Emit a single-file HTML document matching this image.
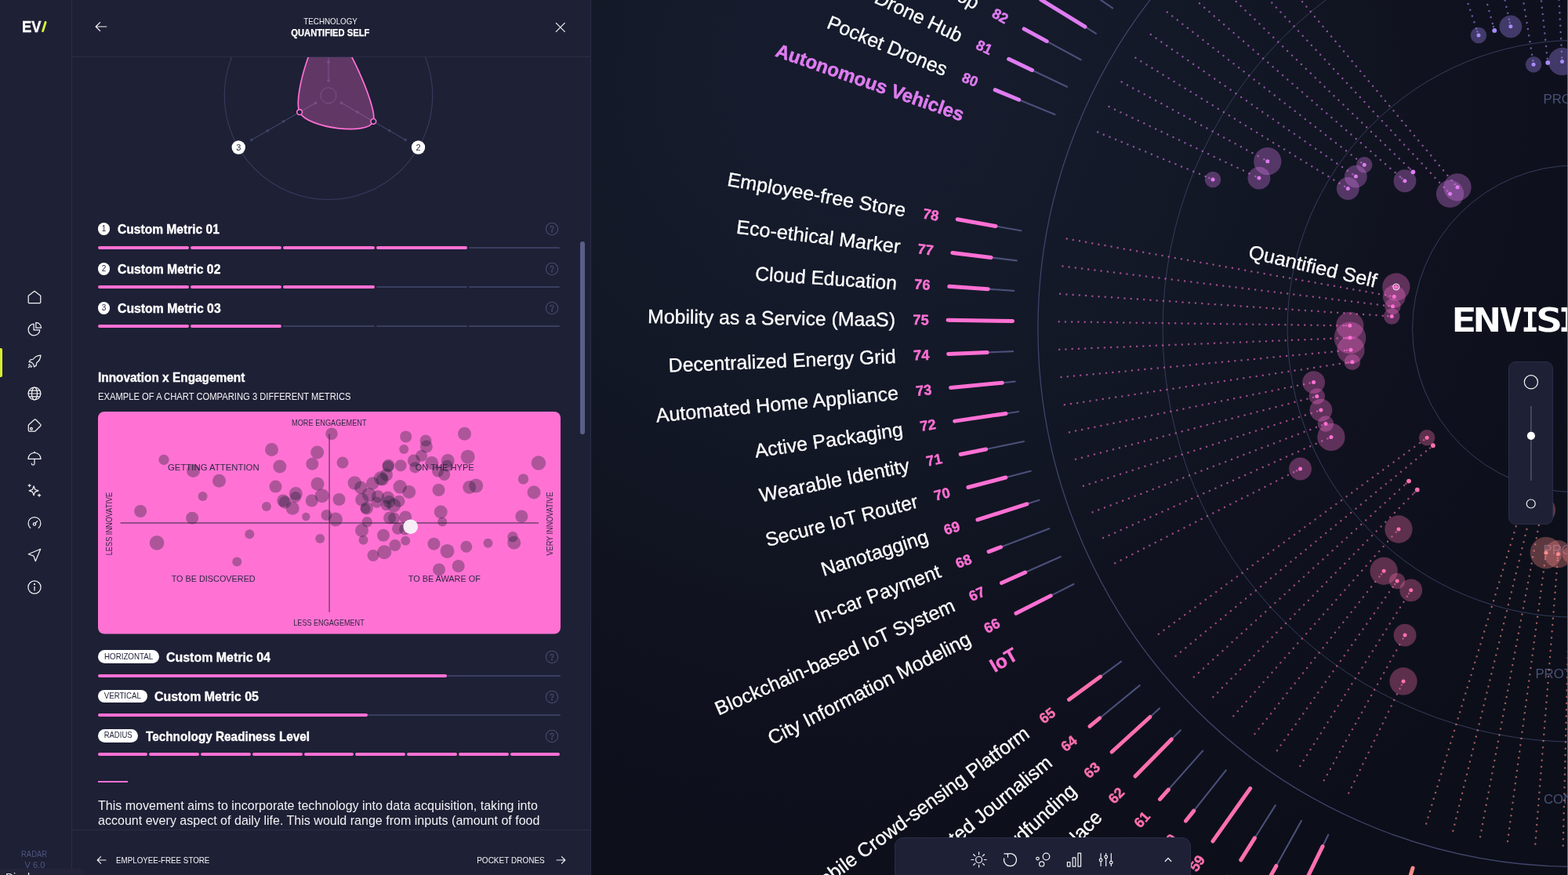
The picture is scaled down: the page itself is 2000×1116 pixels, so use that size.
<!DOCTYPE html>
<html lang="en">
<head>
<meta charset="utf-8">
<title>Envisioning Radar – Quantified Self</title>
<style>
*{box-sizing:border-box;margin:0;padding:0}
html,body{background:#1e2035}
body{width:2000px;height:1116px;font-family:"Liberation Sans","Noto Sans CJK SC",sans-serif;-webkit-font-smoothing:antialiased}
#app{position:relative;width:2000px;height:1116px;overflow:hidden}
#sidebar{position:absolute;left:0;top:0;width:92px;height:1116px;background:#1e2035;border-right:1px solid #2a2d49}
#sidebar>*,#panel span,#panel .num{position:absolute}
.active-mark{left:0;top:443.500px;width:2.800px;height:37px;background:#d5ee2e;border-radius:0 2px 2px 0}
.nav-ico{position:absolute}
#panel{position:absolute;left:0;top:0;width:754px;height:1116px;pointer-events:none}
#panel-body{position:absolute;left:0;top:0;width:754px;height:1116px;background:#1e2035;border-right:1px solid #2a2d49}
#panel-head{position:absolute;left:0;top:0;width:753px;height:73px;background:#1e2035;border-bottom:1px solid #2a2d49}
#panel-foot{position:absolute;left:0;top:0;width:753px;height:1116px}
#panel-foot:before{content:"";position:absolute;left:0;top:1058px;width:753px;height:58px;background:#1e2035;border-top:1px solid #2a2d49}
.num{width:15.800px;height:15.800px;border-radius:50%;background:#fff;color:#1e2035;font-size:10px;line-height:15.800px;text-align:center}
.bar{position:absolute;left:0;width:754px;height:4px}
.bar i{position:absolute;display:block;top:0;height:4px;border-radius:2px}
.bar i.on{background:#ff70d4}
.bar i.off{top:1px;height:2px;background:#3a3e60;border-radius:1px}
.badge{position:absolute;background:#fff;border-radius:9px}
.rule{position:absolute;left:124.500px;top:995.800px;width:38px;height:2px;background:#ff70d4}
.scroll{position:absolute;left:739.500px;top:307.500px;width:6.600px;height:246px;border-radius:3.300px;background:#596087}
#radar{position:absolute;left:754px;top:0;width:1246px;height:1116px;overflow:hidden;background:radial-gradient(circle 1100px at 346px 100px,#161c2e 0%,#151b2b 20%,#131827 39%,#111522 55%,#10131f 64%,#0e111d 80%,#0d101b 92%,#0c0f19 100%)}
#radar>svg{position:absolute;left:0;top:0}
#zoom{position:absolute;left:1924px;top:461px;width:57px;height:208px;border-radius:9px;background:#1e2035;border:1px solid #2a2d49}
#zoom svg{position:absolute;left:-1px;top:-1px}
#toolbar{position:absolute;left:1140.500px;top:1067.500px;width:378px;height:60px;border-radius:11px;background:#1e2035;border:1px solid #2a2d49}
#toolbar svg{position:absolute;left:-1px;top:-1px}
#edge{position:absolute;left:1999px;top:0;width:1px;height:1116px;background:#70737c}
#status{position:absolute;left:0;top:1108px;width:108px;height:20px;background:#23233a;border-radius:0 5px 0 0;color:#f4f4f4;font-size:14px;line-height:22px;padding-left:7px;overflow:hidden}
</style>
</head>
<body>
<div id="app">
<main id="radar">
<svg width="1246" height="1116" viewBox="754 0 1246 1116">
<g id="rings" fill="none" stroke="#3d4268" stroke-width="1">
<circle cx="2010" cy="419.3" r="208.4" stroke="#363b5c" stroke-width="1"/>
<circle cx="2010" cy="419.3" r="367.9" stroke="#363b5c" stroke-width="1"/>
<circle cx="2010" cy="419.3" r="526.9" stroke="#363b5c" stroke-width="1"/>
<circle cx="2010" cy="419.3" r="686.1" stroke="#40456b" stroke-width="1.25"/>
</g>
<g id="ring-labels" font-family="'Liberation Sans', sans-serif" font-size="16.8" fill="#4a5177" text-anchor="middle">
<text x="2010" y="131.5">PRODUCT</text>
<text x="2010" y="707">PRODUCT</text>
<text x="2010" y="865">PROTOTYPE</text>
<text x="2010" y="1025">CONCEPT</text>
</g>
<g id="trails" fill="none" stroke-linecap="round" stroke-width="2.5" stroke-dasharray="0 8.25">
<path d="M1586.97 -86.45L1855.18 234.21" stroke="#df7cf1" opacity="0.6"/>
<path d="M1560.39 -62.98L1845.46 242.8" stroke="#df7cf1" opacity="0.6"/>
<path d="M1535.12 -38.11L1798.04 215.13" stroke="#df7cf1" opacity="0.6"/>
<path d="M1511.21 -11.92L1787.37 226.82" stroke="#df7cf1" opacity="0.6"/>
<path d="M1488.75 15.51L1735.44 206.61" stroke="#df7cf1" opacity="0.6"/>
<path d="M1467.8 44.12L1724.41 221.68" stroke="#df7cf1" opacity="0.6"/>
<path d="M1448.41 73.81L1714.2 237.32" stroke="#df7cf1" opacity="0.6"/>
<path d="M1430.65 104.5L1611.53 202.78" stroke="#df7cf1" opacity="0.6"/>
<path d="M1414.57 136.1L1600.46 224.51" stroke="#df7cf1" opacity="0.6"/>
<path d="M1400.2 168.52L1541.47 226.62" stroke="#df7cf1" opacity="0.6"/>
<path d="M1360.72 304.48L1772.39 377.28" stroke="#ff70d4" opacity="0.6"/>
<path d="M1355.49 339.55L1770.47 390.11" stroke="#ff70d4" opacity="0.6"/>
<path d="M1352.15 374.85L1769.25 403.03" stroke="#ff70d4" opacity="0.6"/>
<path d="M1350.71 410.28L1715.73 415.27" stroke="#ff70d4" opacity="0.6"/>
<path d="M1351.18 445.73L1715.94 431.1" stroke="#ff70d4" opacity="0.6"/>
<path d="M1353.55 481.11L1717 446.89" stroke="#ff70d4" opacity="0.6"/>
<path d="M1357.83 516.31L1718.9 462.6" stroke="#ff70d4" opacity="0.6"/>
<path d="M1363.98 551.23L1669.72 488.79" stroke="#ff70d4" opacity="0.6"/>
<path d="M1372.01 585.77L1673.95 506.98" stroke="#ff70d4" opacity="0.6"/>
<path d="M1381.88 619.83L1679.15 524.92" stroke="#ff70d4" opacity="0.6"/>
<path d="M1393.57 653.3L1685.31 542.56" stroke="#ff70d4" opacity="0.6"/>
<path d="M1407.04 686.1L1692.4 559.83" stroke="#ff70d4" opacity="0.6"/>
<path d="M1422.26 718.13L1653.17 600.72" stroke="#ff70d4" opacity="0.6"/>
<path d="M1477.9 808.67L1815.27 561.8" stroke="#ff70b0" opacity="0.6"/>
<path d="M1499.6 836.71L1823.21 572.06" stroke="#ff70b0" opacity="0.6"/>
<path d="M1522.78 863.55L1792.53 617.59" stroke="#ff70b0" opacity="0.6"/>
<path d="M1547.36 889.1L1803.5 628.99" stroke="#ff70b0" opacity="0.6"/>
<path d="M1573.29 913.29L1779.97 679.5" stroke="#ff70b0" opacity="0.6"/>
<path d="M1600.48 936.05L1761.37 733.03" stroke="#ff70b0" opacity="0.6"/>
<path d="M1628.85 957.32L1778.6 745.94" stroke="#ff70b0" opacity="0.6"/>
<path d="M1658.32 977.03L1796.49 757.91" stroke="#ff70b0" opacity="0.6"/>
<path d="M1688.81 995.13L1789.09 815.36" stroke="#ff70b0" opacity="0.6"/>
<path d="M1720.23 1011.56L1787.36 874.36" stroke="#ff70b0" opacity="0.6"/>
<path d="M1819.14 1050.42L1940.15 650.27" stroke="#ff8c8c" opacity="0.6"/>
<path d="M1853.35 1059.77L1952.67 653.69" stroke="#ff8c8c" opacity="0.6"/>
<path d="M1888.01 1067.27L1965.35 656.43" stroke="#ff8c8c" opacity="0.6"/>
<path d="M1923.02 1072.89L1971.17 711.03" stroke="#ff8c8c" opacity="0.6"/>
<path d="M1958.28 1076.62L1986.91 712.69" stroke="#ff8c8c" opacity="0.6"/>
<path d="M1993.69 1078.45L2002.72 713.51" stroke="#ff8c8c" opacity="0.6"/>
<path d="M1802.54 -206.56L1884.05 39.33" stroke="#a98bff" opacity="0.6"/>
<path d="M1836.49 -216.81L1904.66 33.11" stroke="#a98bff" opacity="0.6"/>
<path d="M1870.93 -225.22L1925.57 28.01" stroke="#a98bff" opacity="0.6"/>
<path d="M1905.78 -231.76L1955.11 76.37" stroke="#a98bff" opacity="0.6"/>
<path d="M1940.93 -236.42L1973.62 73.91" stroke="#a98bff" opacity="0.6"/>
<path d="M1976.28 -239.19L1992.24 72.45" stroke="#a98bff" opacity="0.6"/>
</g>
<g id="bubbles">
<circle cx="1859.03" cy="238.81" r="17.64" fill="#df7cf1" fill-opacity="0.33"/>
<circle cx="1849.55" cy="247.19" r="17.64" fill="#df7cf1" fill-opacity="0.33"/>
<circle cx="1791.91" cy="230.75" r="14.44" fill="#df7cf1" fill-opacity="0.33"/>
<circle cx="1740.19" cy="210.29" r="10.27" fill="#df7cf1" fill-opacity="0.33"/>
<circle cx="1729.34" cy="225.1" r="14.44" fill="#df7cf1" fill-opacity="0.33"/>
<circle cx="1719.31" cy="240.46" r="14.44" fill="#df7cf1" fill-opacity="0.33"/>
<circle cx="1616.8" cy="205.65" r="17.64" fill="#df7cf1" fill-opacity="0.33"/>
<circle cx="1605.88" cy="227.09" r="14.44" fill="#df7cf1" fill-opacity="0.33"/>
<circle cx="1547.02" cy="228.9" r="10.27" fill="#df7cf1" fill-opacity="0.33"/>
<circle cx="1780.83" cy="365.93" r="17.64" fill="#ff70d4" fill-opacity="0.33"/>
<circle cx="1778.3" cy="378.32" r="14.44" fill="#ff70d4" fill-opacity="0.33"/>
<circle cx="1776.43" cy="390.84" r="10.27" fill="#ff70d4" fill-opacity="0.33"/>
<circle cx="1775.24" cy="403.44" r="10.27" fill="#ff70d4" fill-opacity="0.33"/>
<circle cx="1721.73" cy="415.36" r="17.64" fill="#ff70d4" fill-opacity="0.33"/>
<circle cx="1721.93" cy="430.86" r="20.34" fill="#ff70d4" fill-opacity="0.33"/>
<circle cx="1722.97" cy="446.33" r="17.64" fill="#ff70d4" fill-opacity="0.33"/>
<circle cx="1724.84" cy="461.72" r="10.27" fill="#ff70d4" fill-opacity="0.33"/>
<circle cx="1675.6" cy="487.59" r="14.44" fill="#ff70d4" fill-opacity="0.33"/>
<circle cx="1679.76" cy="505.47" r="10.27" fill="#ff70d4" fill-opacity="0.33"/>
<circle cx="1684.87" cy="523.1" r="14.44" fill="#ff70d4" fill-opacity="0.33"/>
<circle cx="1690.92" cy="540.43" r="10.27" fill="#ff70d4" fill-opacity="0.33"/>
<circle cx="1697.89" cy="557.4" r="17.64" fill="#ff70d4" fill-opacity="0.33"/>
<circle cx="1658.52" cy="598" r="14.44" fill="#ff70d4" fill-opacity="0.33"/>
<circle cx="1820.11" cy="558.25" r="10.27" fill="#ff70b0" fill-opacity="0.33"/>
<circle cx="1783.94" cy="675" r="17.64" fill="#ff70b0" fill-opacity="0.33"/>
<circle cx="1765.1" cy="728.32" r="17.64" fill="#ff70b0" fill-opacity="0.33"/>
<circle cx="1782.07" cy="741.04" r="10.27" fill="#ff70b0" fill-opacity="0.33"/>
<circle cx="1799.69" cy="752.83" r="14.44" fill="#ff70b0" fill-opacity="0.33"/>
<circle cx="1792.01" cy="810.12" r="14.44" fill="#ff70b0" fill-opacity="0.33"/>
<circle cx="1790" cy="868.97" r="17.64" fill="#ff70b0" fill-opacity="0.33"/>
<circle cx="1941.89" cy="644.53" r="14.44" fill="#ff8c8c" fill-opacity="0.33"/>
<circle cx="1954.1" cy="647.86" r="14.44" fill="#ff8c8c" fill-opacity="0.33"/>
<circle cx="1966.46" cy="650.54" r="17.64" fill="#ff8c8c" fill-opacity="0.33"/>
<circle cx="1971.97" cy="705.08" r="20.34" fill="#ff8c8c" fill-opacity="0.33"/>
<circle cx="1987.38" cy="706.71" r="17.64" fill="#ff8c8c" fill-opacity="0.33"/>
<circle cx="2002.87" cy="707.51" r="10.27" fill="#ff8c8c" fill-opacity="0.33"/>
<circle cx="1885.94" cy="45.03" r="10.27" fill="#a98bff" fill-opacity="0.33"/>
<circle cx="1926.84" cy="33.87" r="14.44" fill="#a98bff" fill-opacity="0.33"/>
<circle cx="1956.05" cy="82.29" r="10.27" fill="#a98bff" fill-opacity="0.33"/>
<circle cx="1992.55" cy="78.45" r="17.64" fill="#a98bff" fill-opacity="0.33"/>
<circle cx="1855.83" cy="234.98" r="1.3" fill="#df7cf1" opacity="0.55"/>
<circle cx="1859.03" cy="238.81" r="2.5" fill="#df7cf1"/>
<circle cx="1846.14" cy="243.53" r="1.3" fill="#df7cf1" opacity="0.55"/>
<circle cx="1849.55" cy="247.19" r="2.5" fill="#df7cf1"/>
<circle cx="1798.76" cy="215.83" r="1.3" fill="#df7cf1" opacity="0.55"/>
<circle cx="1802.36" cy="219.3" r="2.9" fill="#df7cf1"/>
<circle cx="1788.12" cy="227.48" r="1.3" fill="#df7cf1" opacity="0.55"/>
<circle cx="1791.91" cy="230.75" r="2.5" fill="#df7cf1"/>
<circle cx="1736.23" cy="207.23" r="1.3" fill="#df7cf1" opacity="0.55"/>
<circle cx="1740.19" cy="210.29" r="2.5" fill="#df7cf1"/>
<circle cx="1725.23" cy="222.25" r="1.3" fill="#df7cf1" opacity="0.55"/>
<circle cx="1729.34" cy="225.1" r="2.5" fill="#df7cf1"/>
<circle cx="1715.05" cy="237.84" r="1.3" fill="#df7cf1" opacity="0.55"/>
<circle cx="1719.31" cy="240.46" r="2.5" fill="#df7cf1"/>
<circle cx="1612.4" cy="203.26" r="1.3" fill="#df7cf1" opacity="0.55"/>
<circle cx="1616.8" cy="205.65" r="2.5" fill="#df7cf1"/>
<circle cx="1601.37" cy="224.94" r="1.3" fill="#df7cf1" opacity="0.55"/>
<circle cx="1605.88" cy="227.09" r="2.5" fill="#df7cf1"/>
<circle cx="1542.4" cy="227" r="1.3" fill="#df7cf1" opacity="0.55"/>
<circle cx="1547.02" cy="228.9" r="2.5" fill="#df7cf1"/>
<circle cx="1775.96" cy="364.79" r="1.3" fill="#ff70d4" opacity="0.55"/>
<circle cx="1780.83" cy="365.93" r="2.6" fill="#ff70d4"/>
<circle cx="1780.83" cy="365.93" r="4" fill="none" stroke="#fff" stroke-width="1"/>
<circle cx="1773.37" cy="377.45" r="1.3" fill="#ff70d4" opacity="0.55"/>
<circle cx="1778.3" cy="378.32" r="2.5" fill="#ff70d4"/>
<circle cx="1771.46" cy="390.23" r="1.3" fill="#ff70d4" opacity="0.55"/>
<circle cx="1776.43" cy="390.84" r="2.5" fill="#ff70d4"/>
<circle cx="1770.25" cy="403.1" r="1.3" fill="#ff70d4" opacity="0.55"/>
<circle cx="1775.24" cy="403.44" r="2.5" fill="#ff70d4"/>
<circle cx="1716.73" cy="415.29" r="1.3" fill="#ff70d4" opacity="0.55"/>
<circle cx="1721.73" cy="415.36" r="2.5" fill="#ff70d4"/>
<circle cx="1716.94" cy="431.06" r="1.3" fill="#ff70d4" opacity="0.55"/>
<circle cx="1721.93" cy="430.86" r="2.5" fill="#ff70d4"/>
<circle cx="1717.99" cy="446.8" r="1.3" fill="#ff70d4" opacity="0.55"/>
<circle cx="1722.97" cy="446.33" r="2.5" fill="#ff70d4"/>
<circle cx="1719.89" cy="462.45" r="1.3" fill="#ff70d4" opacity="0.55"/>
<circle cx="1724.84" cy="461.72" r="2.5" fill="#ff70d4"/>
<circle cx="1670.7" cy="488.59" r="1.3" fill="#ff70d4" opacity="0.55"/>
<circle cx="1675.6" cy="487.59" r="2.5" fill="#ff70d4"/>
<circle cx="1674.92" cy="506.73" r="1.3" fill="#ff70d4" opacity="0.55"/>
<circle cx="1679.76" cy="505.47" r="2.5" fill="#ff70d4"/>
<circle cx="1680.1" cy="524.62" r="1.3" fill="#ff70d4" opacity="0.55"/>
<circle cx="1684.87" cy="523.1" r="2.5" fill="#ff70d4"/>
<circle cx="1686.24" cy="542.2" r="1.3" fill="#ff70d4" opacity="0.55"/>
<circle cx="1690.92" cy="540.43" r="2.5" fill="#ff70d4"/>
<circle cx="1693.32" cy="559.43" r="1.3" fill="#ff70d4" opacity="0.55"/>
<circle cx="1697.89" cy="557.4" r="2.5" fill="#ff70d4"/>
<circle cx="1654.06" cy="600.27" r="1.3" fill="#ff70d4" opacity="0.55"/>
<circle cx="1658.52" cy="598" r="2.5" fill="#ff70d4"/>
<circle cx="1816.08" cy="561.21" r="1.3" fill="#ff70b0" opacity="0.55"/>
<circle cx="1820.11" cy="558.25" r="2.5" fill="#ff70b0"/>
<circle cx="1823.98" cy="571.43" r="1.3" fill="#ff70b0" opacity="0.55"/>
<circle cx="1827.86" cy="568.26" r="2.9" fill="#ff70b0"/>
<circle cx="1793.27" cy="616.92" r="1.3" fill="#ff70b0" opacity="0.55"/>
<circle cx="1796.96" cy="613.55" r="2.9" fill="#ff70b0"/>
<circle cx="1804.2" cy="628.28" r="1.3" fill="#ff70b0" opacity="0.55"/>
<circle cx="1807.71" cy="624.72" r="2.9" fill="#ff70b0"/>
<circle cx="1780.63" cy="678.75" r="1.3" fill="#ff70b0" opacity="0.55"/>
<circle cx="1783.94" cy="675" r="2.5" fill="#ff70b0"/>
<circle cx="1761.99" cy="732.24" r="1.3" fill="#ff70b0" opacity="0.55"/>
<circle cx="1765.1" cy="728.32" r="2.5" fill="#ff70b0"/>
<circle cx="1779.18" cy="745.12" r="1.3" fill="#ff70b0" opacity="0.55"/>
<circle cx="1782.07" cy="741.04" r="2.5" fill="#ff70b0"/>
<circle cx="1797.02" cy="757.06" r="1.3" fill="#ff70b0" opacity="0.55"/>
<circle cx="1799.69" cy="752.83" r="2.5" fill="#ff70b0"/>
<circle cx="1789.57" cy="814.48" r="1.3" fill="#ff70b0" opacity="0.55"/>
<circle cx="1792.01" cy="810.12" r="2.5" fill="#ff70b0"/>
<circle cx="1787.8" cy="873.46" r="1.3" fill="#ff70b0" opacity="0.55"/>
<circle cx="1790" cy="868.97" r="2.5" fill="#ff70b0"/>
<circle cx="1940.44" cy="649.31" r="1.3" fill="#ff8c8c" opacity="0.55"/>
<circle cx="1941.89" cy="644.53" r="2.5" fill="#ff8c8c"/>
<circle cx="1952.91" cy="652.72" r="1.3" fill="#ff8c8c" opacity="0.55"/>
<circle cx="1954.1" cy="647.86" r="2.5" fill="#ff8c8c"/>
<circle cx="1965.54" cy="655.45" r="1.3" fill="#ff8c8c" opacity="0.55"/>
<circle cx="1966.46" cy="650.54" r="2.5" fill="#ff8c8c"/>
<circle cx="1971.31" cy="710.04" r="1.3" fill="#ff8c8c" opacity="0.55"/>
<circle cx="1971.97" cy="705.08" r="2.5" fill="#ff8c8c"/>
<circle cx="1986.99" cy="711.7" r="1.3" fill="#ff8c8c" opacity="0.55"/>
<circle cx="1987.38" cy="706.71" r="2.5" fill="#ff8c8c"/>
<circle cx="2002.74" cy="712.51" r="1.3" fill="#ff8c8c" opacity="0.55"/>
<circle cx="2002.87" cy="707.51" r="2.5" fill="#ff8c8c"/>
<circle cx="1884.36" cy="40.28" r="1.3" fill="#a98bff" opacity="0.55"/>
<circle cx="1885.94" cy="45.03" r="2.5" fill="#a98bff"/>
<circle cx="1904.92" cy="34.07" r="1.3" fill="#a98bff" opacity="0.55"/>
<circle cx="1906.24" cy="38.9" r="2.9" fill="#a98bff"/>
<circle cx="1925.78" cy="28.98" r="1.3" fill="#a98bff" opacity="0.55"/>
<circle cx="1926.84" cy="33.87" r="2.5" fill="#a98bff"/>
<circle cx="1955.26" cy="77.35" r="1.3" fill="#a98bff" opacity="0.55"/>
<circle cx="1956.05" cy="82.29" r="2.5" fill="#a98bff"/>
<circle cx="1973.72" cy="74.91" r="1.3" fill="#a98bff" opacity="0.55"/>
<circle cx="1974.25" cy="79.88" r="2.9" fill="#a98bff"/>
<circle cx="1992.29" cy="73.45" r="1.3" fill="#a98bff" opacity="0.55"/>
<circle cx="1992.55" cy="78.45" r="2.5" fill="#a98bff"/>
</g>
<g id="bars" fill="none" stroke-linecap="round">
<path d="M1527.85 -157.14L1549.02 -131.82" stroke="#4a5079" stroke-width="2.1"/>
<path d="M1496.09 -195.11L1527.85 -157.14" stroke="#df7cf1" stroke-width="5"/>
<path d="M1497.55 -130.38L1520.06 -106.25" stroke="#4a5079" stroke-width="2.1"/>
<path d="M1463.8 -166.59L1497.55 -130.38" stroke="#df7cf1" stroke-width="5"/>
<path d="M1468.75 -102.04L1492.51 -79.15" stroke="#4a5079" stroke-width="2.1"/>
<path d="M1433.09 -136.38L1468.75 -102.04" stroke="#df7cf1" stroke-width="5"/>
<path d="M1441.5 -72.19L1466.47 -50.61" stroke="#4a5079" stroke-width="2.1"/>
<path d="M1404.06 -104.56L1441.5 -72.19" stroke="#df7cf1" stroke-width="5"/>
<path d="M1415.9 -40.92L1441.99 -20.71" stroke="#4a5079" stroke-width="2.1"/>
<path d="M1376.77 -71.23L1415.9 -40.92" stroke="#df7cf1" stroke-width="5"/>
<path d="M1392.02 -8.32L1419.16 10.46" stroke="#4a5079" stroke-width="2.1"/>
<path d="M1351.32 -36.48L1392.02 -8.32" stroke="#df7cf1" stroke-width="5"/>
<path d="M1383.98 34.17L1398.03 42.82" stroke="#4a5079" stroke-width="2.1"/>
<path d="M1327.77 -0.41L1383.98 34.17" stroke="#df7cf1" stroke-width="5"/>
<path d="M1335.19 52.63L1378.68 76.26" stroke="#4a5079" stroke-width="2.1"/>
<path d="M1306.19 36.87L1335.19 52.63" stroke="#df7cf1" stroke-width="5"/>
<path d="M1316.45 89.43L1361.15 110.69" stroke="#4a5079" stroke-width="2.1"/>
<path d="M1286.65 75.26L1316.45 89.43" stroke="#df7cf1" stroke-width="5"/>
<path d="M1299.72 127.19L1345.5 146.02" stroke="#4a5079" stroke-width="2.1"/>
<path d="M1269.2 114.64L1299.72 127.19" stroke="#df7cf1" stroke-width="5"/>
<path d="M1269.98 288.43L1302.48 294.18" stroke="#4a5079" stroke-width="2.1"/>
<path d="M1221.24 279.81L1269.98 288.43" stroke="#ff70d4" stroke-width="5"/>
<path d="M1264.02 328.4L1296.78 332.39" stroke="#4a5079" stroke-width="2.1"/>
<path d="M1214.88 322.42L1264.02 328.4" stroke="#ff70d4" stroke-width="5"/>
<path d="M1260.21 368.64L1293.13 370.86" stroke="#4a5079" stroke-width="2.1"/>
<path d="M1210.82 365.3L1260.21 368.64" stroke="#ff70d4" stroke-width="5"/>
<path d="M1209.07 408.34L1291.57 409.47" stroke="#ff70d4" stroke-width="5"/>
<path d="M1259.1 449.43L1292.08 448.1" stroke="#4a5079" stroke-width="2.1"/>
<path d="M1209.64 451.41L1259.1 449.43" stroke="#ff70d4" stroke-width="5"/>
<path d="M1278.24 488.2L1294.66 486.66" stroke="#4a5079" stroke-width="2.1"/>
<path d="M1212.53 494.39L1278.24 488.2" stroke="#ff70d4" stroke-width="5"/>
<path d="M1283 527.44L1299.32 525.01" stroke="#4a5079" stroke-width="2.1"/>
<path d="M1217.72 537.15L1283 527.44" stroke="#ff70d4" stroke-width="5"/>
<path d="M1257.53 572.97L1306.03 563.07" stroke="#4a5079" stroke-width="2.1"/>
<path d="M1225.2 579.57L1257.53 572.97" stroke="#ff70d4" stroke-width="5"/>
<path d="M1282.85 609.03L1314.78 600.7" stroke="#4a5079" stroke-width="2.1"/>
<path d="M1234.95 621.53L1282.85 609.03" stroke="#ff70d4" stroke-width="5"/>
<path d="M1309.82 642.83L1325.53 637.81" stroke="#4a5079" stroke-width="2.1"/>
<path d="M1246.94 662.91L1309.82 642.83" stroke="#ff70d4" stroke-width="5"/>
<path d="M1276.57 697.72L1338.27 674.29" stroke="#4a5079" stroke-width="2.1"/>
<path d="M1261.14 703.57L1276.57 697.72" stroke="#ff70d4" stroke-width="5"/>
<path d="M1307.68 730.07L1352.95 710.04" stroke="#4a5079" stroke-width="2.1"/>
<path d="M1277.51 743.42L1307.68 730.07" stroke="#ff70d4" stroke-width="5"/>
<path d="M1340.11 759.89L1369.53 744.94" stroke="#4a5079" stroke-width="2.1"/>
<path d="M1295.99 782.33L1340.11 759.89" stroke="#ff70d4" stroke-width="5"/>
<path d="M1403.53 863.09L1430.16 843.6" stroke="#4a5079" stroke-width="2.1"/>
<path d="M1363.59 892.32L1403.53 863.09" stroke="#ff70b0" stroke-width="5"/>
<path d="M1402.72 915.94L1453.81 874.16" stroke="#4a5079" stroke-width="2.1"/>
<path d="M1389.95 926.39L1402.72 915.94" stroke="#ff70b0" stroke-width="5"/>
<path d="M1466.88 914.52L1479.07 903.4" stroke="#4a5079" stroke-width="2.1"/>
<path d="M1418.11 958.99L1466.88 914.52" stroke="#ff70b0" stroke-width="5"/>
<path d="M1494.28 943L1505.86 931.24" stroke="#4a5079" stroke-width="2.1"/>
<path d="M1447.97 990.03L1494.28 943" stroke="#ff70b0" stroke-width="5"/>
<path d="M1490.4 1007.05L1534.11 957.6" stroke="#4a5079" stroke-width="2.1"/>
<path d="M1479.47 1019.41L1490.4 1007.05" stroke="#ff70b0" stroke-width="5"/>
<path d="M1522.74 1034.13L1563.74 982.41" stroke="#4a5079" stroke-width="2.1"/>
<path d="M1512.5 1047.07L1522.74 1034.13" stroke="#ff70b0" stroke-width="5"/>
<path d="M1546.96 1072.9L1594.65 1005.58" stroke="#ff70b0" stroke-width="5"/>
<path d="M1600.37 1068.94L1626.77 1027.07" stroke="#4a5079" stroke-width="2.1"/>
<path d="M1582.77 1096.85L1600.37 1068.94" stroke="#ff70b0" stroke-width="5"/>
<path d="M1627.85 1104.43L1660 1046.79" stroke="#4a5079" stroke-width="2.1"/>
<path d="M1619.81 1118.84L1627.85 1104.43" stroke="#ff70b0" stroke-width="5"/>
<path d="M1686.99 1079.52L1694.24 1064.7" stroke="#4a5079" stroke-width="2.1"/>
<path d="M1657.98 1138.8L1686.99 1079.52" stroke="#ff70b0" stroke-width="5"/>
<path d="M1778.14 1186.01L1802.02 1107.04" stroke="#ff8c8c" stroke-width="5"/>
<path d="M1831.46 1149.28L1839.3 1117.23" stroke="#4a5079" stroke-width="2.1"/>
<path d="M1819.7 1197.36L1831.46 1149.28" stroke="#ff8c8c" stroke-width="5"/>
<path d="M1870.96 1157.82L1877.06 1125.39" stroke="#4a5079" stroke-width="2.1"/>
<path d="M1861.8 1206.47L1870.96 1157.82" stroke="#ff8c8c" stroke-width="5"/>
<path d="M1910.86 1164.23L1915.21 1131.52" stroke="#4a5079" stroke-width="2.1"/>
<path d="M1904.33 1213.3L1910.86 1164.23" stroke="#ff8c8c" stroke-width="5"/>
<path d="M1951.05 1168.48L1953.64 1135.59" stroke="#4a5079" stroke-width="2.1"/>
<path d="M1947.17 1217.83L1951.05 1168.48" stroke="#ff8c8c" stroke-width="5"/>
<path d="M1991.41 1170.57L1992.22 1137.58" stroke="#4a5079" stroke-width="2.1"/>
<path d="M1990.18 1220.05L1991.41 1170.57" stroke="#ff8c8c" stroke-width="5"/>
<path d="M1773.55 -294.03L1783.93 -262.71" stroke="#4a5079" stroke-width="2.1"/>
<path d="M1757.97 -341.02L1773.55 -294.03" stroke="#a98bff" stroke-width="5"/>
<path d="M1812.24 -305.71L1820.92 -273.87" stroke="#4a5079" stroke-width="2.1"/>
<path d="M1799.21 -353.47L1812.24 -305.71" stroke="#a98bff" stroke-width="5"/>
<path d="M1851.5 -315.29L1858.46 -283.04" stroke="#4a5079" stroke-width="2.1"/>
<path d="M1841.06 -363.68L1851.5 -315.29" stroke="#a98bff" stroke-width="5"/>
<path d="M1891.22 -322.75L1896.43 -290.17" stroke="#4a5079" stroke-width="2.1"/>
<path d="M1883.39 -371.63L1891.22 -322.75" stroke="#a98bff" stroke-width="5"/>
<path d="M1931.28 -328.07L1934.74 -295.25" stroke="#4a5079" stroke-width="2.1"/>
<path d="M1926.09 -377.29L1931.28 -328.07" stroke="#a98bff" stroke-width="5"/>
<path d="M1971.57 -331.22L1973.26 -298.26" stroke="#4a5079" stroke-width="2.1"/>
<path d="M1969.04 -380.65L1971.57 -331.22" stroke="#a98bff" stroke-width="5"/>
</g>
<g id="numbers" font-family="'Liberation Sans', sans-serif" font-weight="700" font-size="18.3" text-anchor="middle" stroke-width="0.45" stroke-linejoin="round">
<text transform="translate(2010 419.3) rotate(34.68)" x="-835.5" y="6.3" fill="#df7cf1" stroke="#df7cf1">84</text>
<text transform="translate(2010 419.3) rotate(31.6)" x="-835.5" y="6.3" fill="#df7cf1" stroke="#df7cf1">83</text>
<text transform="translate(2010 419.3) rotate(28.52)" x="-835.5" y="6.3" fill="#df7cf1" stroke="#df7cf1">82</text>
<text transform="translate(2010 419.3) rotate(25.44)" x="-835.5" y="6.3" fill="#df7cf1" stroke="#df7cf1">81</text>
<text transform="translate(2010 419.3) rotate(22.36)" x="-835.5" y="6.3" fill="#df7cf1" stroke="#df7cf1">80</text>
<text transform="translate(2010 419.3) rotate(10.03)" x="-835.5" y="6.3" fill="#ff70d4" stroke="#ff70d4">78</text>
<text transform="translate(2010 419.3) rotate(6.95)" x="-835.5" y="6.3" fill="#ff70d4" stroke="#ff70d4">77</text>
<text transform="translate(2010 419.3) rotate(3.87)" x="-835.5" y="6.3" fill="#ff70d4" stroke="#ff70d4">76</text>
<text transform="translate(2010 419.3) rotate(0.78)" x="-835.5" y="6.3" fill="#ff70d4" stroke="#ff70d4">75</text>
<text transform="translate(2010 419.3) rotate(-2.3)" x="-835.5" y="6.3" fill="#ff70d4" stroke="#ff70d4">74</text>
<text transform="translate(2010 419.3) rotate(-5.38)" x="-835.5" y="6.3" fill="#ff70d4" stroke="#ff70d4">73</text>
<text transform="translate(2010 419.3) rotate(-8.46)" x="-835.5" y="6.3" fill="#ff70d4" stroke="#ff70d4">72</text>
<text transform="translate(2010 419.3) rotate(-11.54)" x="-835.5" y="6.3" fill="#ff70d4" stroke="#ff70d4">71</text>
<text transform="translate(2010 419.3) rotate(-14.62)" x="-835.5" y="6.3" fill="#ff70d4" stroke="#ff70d4">70</text>
<text transform="translate(2010 419.3) rotate(-17.71)" x="-835.5" y="6.3" fill="#ff70d4" stroke="#ff70d4">69</text>
<text transform="translate(2010 419.3) rotate(-20.79)" x="-835.5" y="6.3" fill="#ff70d4" stroke="#ff70d4">68</text>
<text transform="translate(2010 419.3) rotate(-23.87)" x="-835.5" y="6.3" fill="#ff70d4" stroke="#ff70d4">67</text>
<text transform="translate(2010 419.3) rotate(-26.95)" x="-835.5" y="6.3" fill="#ff70d4" stroke="#ff70d4">66</text>
<text transform="translate(2010 419.3) rotate(-36.2)" x="-835.5" y="6.3" fill="#ff70b0" stroke="#ff70b0">65</text>
<text transform="translate(2010 419.3) rotate(-39.28)" x="-835.5" y="6.3" fill="#ff70b0" stroke="#ff70b0">64</text>
<text transform="translate(2010 419.3) rotate(-42.36)" x="-835.5" y="6.3" fill="#ff70b0" stroke="#ff70b0">63</text>
<text transform="translate(2010 419.3) rotate(-45.44)" x="-835.5" y="6.3" fill="#ff70b0" stroke="#ff70b0">62</text>
<text transform="translate(2010 419.3) rotate(-48.52)" x="-835.5" y="6.3" fill="#ff70b0" stroke="#ff70b0">61</text>
<text transform="translate(2010 419.3) rotate(-51.6)" x="-835.5" y="6.3" fill="#ff70b0" stroke="#ff70b0">60</text>
<text transform="translate(2010 419.3) rotate(-54.68)" x="-835.5" y="6.3" fill="#ff70b0" stroke="#ff70b0">59</text>
<text transform="translate(2010 419.3) rotate(-57.77)" x="-835.5" y="6.3" fill="#ff70b0" stroke="#ff70b0">58</text>
<text transform="translate(2010 419.3) rotate(-60.85)" x="-835.5" y="6.3" fill="#ff70b0" stroke="#ff70b0">57</text>
<text transform="translate(2010 419.3) rotate(-63.93)" x="-835.5" y="6.3" fill="#ff70b0" stroke="#ff70b0">56</text>
</g>
<g id="labels" font-family="'Liberation Sans', sans-serif" font-size="24.85" fill="#ffffff" stroke="#ffffff" stroke-width="0.3" text-anchor="end">
<text transform="translate(2010 419.3) rotate(34.68)" x="-868" y="8.8">Driverless Shuttle</text>
<text transform="translate(2010 419.3) rotate(31.6)" x="-868" y="8.8">Passenger Drone</text>
<text transform="translate(2010 419.3) rotate(28.52)" x="-868" y="8.8">Hyperloop</text>
<text transform="translate(2010 419.3) rotate(25.44)" x="-868" y="8.8">Drone Hub</text>
<text transform="translate(2010 419.3) rotate(22.36)" x="-868" y="8.8">Pocket Drones</text>
<text transform="translate(2010 419.3) rotate(13.11)" x="-261.3" y="6.9" textLength="167" lengthAdjust="spacingAndGlyphs">Quantified Self</text>
<text transform="translate(2010 419.3) rotate(10.03)" x="-868" y="8.8" textLength="230.5" lengthAdjust="spacingAndGlyphs">Employee-free Store</text>
<text transform="translate(2010 419.3) rotate(6.95)" x="-868" y="8.8" textLength="210.3" lengthAdjust="spacingAndGlyphs">Eco-ethical Marker</text>
<text transform="translate(2010 419.3) rotate(3.87)" x="-868" y="8.8" textLength="181" lengthAdjust="spacingAndGlyphs">Cloud Education</text>
<text transform="translate(2010 419.3) rotate(0.78)" x="-868" y="8.8" textLength="316" lengthAdjust="spacingAndGlyphs">Mobility as a Service (MaaS)</text>
<text transform="translate(2010 419.3) rotate(-2.3)" x="-868" y="8.8" textLength="290.2" lengthAdjust="spacingAndGlyphs">Decentralized Energy Grid</text>
<text transform="translate(2010 419.3) rotate(-5.38)" x="-868" y="8.8" textLength="310.5" lengthAdjust="spacingAndGlyphs">Automated Home Appliance</text>
<text transform="translate(2010 419.3) rotate(-8.46)" x="-868" y="8.8" textLength="190.9" lengthAdjust="spacingAndGlyphs">Active Packaging</text>
<text transform="translate(2010 419.3) rotate(-11.54)" x="-868" y="8.8" textLength="194.8" lengthAdjust="spacingAndGlyphs">Wearable Identity</text>
<text transform="translate(2010 419.3) rotate(-14.62)" x="-868" y="8.8" textLength="199.8" lengthAdjust="spacingAndGlyphs">Secure IoT Router</text>
<text transform="translate(2010 419.3) rotate(-17.71)" x="-868" y="8.8" textLength="142" lengthAdjust="spacingAndGlyphs">Nanotagging</text>
<text transform="translate(2010 419.3) rotate(-20.79)" x="-868" y="8.8" textLength="169.7" lengthAdjust="spacingAndGlyphs">In-car Payment</text>
<text transform="translate(2010 419.3) rotate(-23.87)" x="-868" y="8.8" textLength="331.6" lengthAdjust="spacingAndGlyphs">Blockchain-based IoT System</text>
<text transform="translate(2010 419.3) rotate(-26.95)" x="-868" y="8.8" textLength="286.6" lengthAdjust="spacingAndGlyphs">City Information Modeling</text>
<text transform="translate(2010 419.3) rotate(-36.2)" x="-868" y="8.8">Mobile Crowd-sensing Platform</text>
<text transform="translate(2010 419.3) rotate(-39.28)" x="-868" y="8.8">Automated Journalism</text>
<text transform="translate(2010 419.3) rotate(-42.36)" x="-868" y="8.8">Equity Crowdfunding</text>
<text transform="translate(2010 419.3) rotate(-45.44)" x="-868" y="8.8">Digital Marketplace</text>
<text transform="translate(2010 419.3) rotate(-48.52)" x="-868" y="8.8">Smart Sensors</text>
<text transform="translate(2010 419.3) rotate(-51.6)" x="-868" y="8.8">Digital Identity</text>
<text transform="translate(2010 419.3) rotate(-54.68)" x="-868" y="8.8">Peer-to-peer Lending</text>
<text transform="translate(2010 419.3) rotate(-57.77)" x="-868" y="8.8">Token Economy</text>
<text transform="translate(2010 419.3) rotate(-60.85)" x="-868" y="8.8">Data Cooperative</text>
<text transform="translate(2010 419.3) rotate(-63.93)" x="-868" y="8.8">Open Banking</text>
</g>
<g id="category-labels" font-family="'Liberation Sans', sans-serif" font-size="24.2" font-weight="700" text-anchor="end" stroke-width="0.5" stroke-linejoin="round">
<text transform="translate(2010 419.3) rotate(19.27)" x="-827.3" y="8.8" fill="#df7cf1" stroke="#df7cf1">Autonomous Vehicles</text>
<text transform="translate(2010 419.3) rotate(-30.03)" x="-825.3" y="8.8" fill="#ff70d4" stroke="#ff70d4">IoT</text>
</g>
<g id="brand" font-family="'DejaVu Sans Mono', 'Liberation Mono', monospace" font-weight="700" font-size="42.9" fill="#ffffff"><text y="423.200"><tspan x="1851.58" textLength="31.69" lengthAdjust="spacingAndGlyphs">E</tspan><tspan x="1879.22" textLength="35.13" lengthAdjust="spacingAndGlyphs">N</tspan><tspan x="1912.33" textLength="29.55" lengthAdjust="spacingAndGlyphs">V</tspan><tspan x="1940.38" textLength="22.33" lengthAdjust="spacingAndGlyphs">I</tspan><tspan x="1959.04" textLength="34.06" lengthAdjust="spacingAndGlyphs">S</tspan><tspan x="1988.58" textLength="22.33" lengthAdjust="spacingAndGlyphs">I</tspan><tspan x="2008.32" textLength="33.16" lengthAdjust="spacingAndGlyphs">O</tspan><tspan x="2038.62" textLength="35.13" lengthAdjust="spacingAndGlyphs">N</tspan><tspan x="2070.18" textLength="22.33" lengthAdjust="spacingAndGlyphs">I</tspan><tspan x="2089.02" textLength="35.13" lengthAdjust="spacingAndGlyphs">N</tspan><tspan x="2120.56" textLength="33.2" lengthAdjust="spacingAndGlyphs">G</tspan></text></g>
</svg>
</main>
<div id="zoom"><svg width="57" height="208" viewBox="1924 461 57 208" fill="none"><circle cx="1952.900" cy="487.300" r="8.600" stroke="#f3f3f6" stroke-width="1.200"/><path d="M1952.900 518V613" stroke="#5b6188" stroke-width="1.200"/><circle cx="1952.900" cy="555.800" r="5.100" fill="#fff"/><circle cx="1952.700" cy="642.500" r="5.500" stroke="#f3f3f6" stroke-width="1.200"/></svg></div>
<div id="toolbar"><svg width="378" height="49" viewBox="1140.500 1067.500 378 49" fill="none" stroke="#f1f1f5" stroke-width="1.200" stroke-linecap="round" stroke-linejoin="round"><circle cx="1248.1" cy="1096.0" r="4"/><path d="M1254.7 1096L1257.7 1096"/><path d="M1252.77 1100.67L1254.89 1102.79"/><path d="M1248.1 1102.6L1248.1 1105.6"/><path d="M1243.43 1100.67L1241.31 1102.79"/><path d="M1241.5 1096L1238.5 1096"/><path d="M1243.43 1091.33L1241.31 1089.21"/><path d="M1248.1 1089.4L1248.1 1086.4"/><path d="M1252.77 1091.33L1254.89 1089.21"/><path d="M1284.4 1089A8 8 0 1 1 1280.2 1094.4"/><path d="M1280.4 1088.4H1285V1092.8"/><circle cx="1334" cy="1092" r="4.300"/><circle cx="1328.2" cy="1101.4" r="3.100"/><circle cx="1323" cy="1094.6" r="1.800"/><rect x="1360.9" y="1099.2" width="3.600" height="5.400"/><rect x="1367.7" y="1093.4" width="3.600" height="11.200"/><rect x="1374.5" y="1087.6" width="3.600" height="17"/><path d="M1403.6 1088V1094.6M1403.6 1098.2V1104"/><circle cx="1403.6" cy="1096.4" r="1.800"/><path d="M1410.2 1088V1090.6M1410.2 1094.2V1104"/><circle cx="1410.2" cy="1092.4" r="1.800"/><path d="M1416.8 1088V1097.8M1416.8 1101.4V1104"/><circle cx="1416.8" cy="1099.6" r="1.800"/><path d="M1485.7 1098L1489.5 1094L1493.3 1098"/></svg></div>
<section id="panel">
<div id="panel-body">
<svg id="spider" style="position:absolute;left:92px;top:73px" width="661" height="200" viewBox="92 73 661 200">
<circle cx="419.0" cy="121.75" r="132.75" fill="none" stroke="#383c5e" stroke-width="1.100"/>
<circle cx="419.0" cy="121.75" r="10" fill="none" stroke="#40446a" stroke-width="1"/>
<path d="M419 102.75L419 8.35" stroke="#3f4368" stroke-width="1.100"/>
<circle cx="419" cy="102.75" r="1.800" fill="#3f4368"/>
<circle cx="419" cy="79.15" r="1.800" fill="#3f4368"/>
<circle cx="419" cy="55.55" r="1.800" fill="#3f4368"/>
<circle cx="419" cy="31.95" r="1.800" fill="#3f4368"/>
<circle cx="419" cy="8.35" r="1.800" fill="#3f4368"/>
<path d="M435.45 131.25L517.21 178.45" stroke="#3f4368" stroke-width="1.100"/>
<circle cx="435.45" cy="131.25" r="1.800" fill="#3f4368"/>
<circle cx="455.89" cy="143.05" r="1.800" fill="#3f4368"/>
<circle cx="476.33" cy="154.85" r="1.800" fill="#3f4368"/>
<circle cx="496.77" cy="166.65" r="1.800" fill="#3f4368"/>
<circle cx="517.21" cy="178.45" r="1.800" fill="#3f4368"/>
<path d="M402.55 131.25L320.79 178.45" stroke="#3f4368" stroke-width="1.100"/>
<circle cx="402.55" cy="131.25" r="1.800" fill="#3f4368"/>
<circle cx="382.11" cy="143.05" r="1.800" fill="#3f4368"/>
<circle cx="361.67" cy="154.85" r="1.800" fill="#3f4368"/>
<circle cx="341.23" cy="166.65" r="1.800" fill="#3f4368"/>
<circle cx="320.79" cy="178.45" r="1.800" fill="#3f4368"/>
<path d="M419 31.950C434.700 33.900 482.450 136.330 476.300 154.850C470.150 173.370 391.650 163.530 382.100 143.050C372.550 122.570 403.300 29.980 419 31.950Z" fill="#ff70d4" fill-opacity="0.3" stroke="#ff70d4" stroke-width="1.700"/>
<circle cx="476.3" cy="154.85" r="3.4" fill="#1e2035" stroke="#ff70d4" stroke-width="1.6"/>
<circle cx="382.1" cy="143.05" r="3.4" fill="#1e2035" stroke="#ff70d4" stroke-width="1.6"/>
<circle cx="304.25" cy="188" r="8.700" fill="#fff"/>
<text x="304.25" y="191.900" font-size="11" text-anchor="middle" fill="#1e2035" font-family="'Liberation Sans', sans-serif">3</text>
<circle cx="533.5" cy="188" r="8.700" fill="#fff"/>
<text x="533.5" y="191.900" font-size="11" text-anchor="middle" fill="#1e2035" font-family="'Liberation Sans', sans-serif">2</text>
</svg>
<div class="num" style="left:124.600px;top:284.3px">1</div>
<span style="position:absolute;left:149.8px;top:284.24px;font-size:16.2px;line-height:1;font-weight:700;color:#fff;white-space:nowrap;transform:scaleX(0.9627);transform-origin:left center;-webkit-text-stroke:0.35px #fff;">Custom Metric 01</span>
<svg class="help" style="position:absolute;left:695px;top:283.2px" width="18" height="18" viewBox="0 0 18 18" fill="none" stroke="#474b70" stroke-width="1.100" stroke-linecap="round"><circle cx="9" cy="9" r="7.700"/><path d="M7 7.300a2 2 0 1 1 2.900 1.800c-.6.300-.9.700-.9 1.300v.3"/><circle cx="9" cy="12.600" r=".5" fill="#474b70"/></svg>
<div class="bar" style="top:313.6px"><i class="on" style="left:124.5px;width:116.4px"></i><i class="on" style="left:242.9px;width:116.4px"></i><i class="on" style="left:361.3px;width:116.4px"></i><i class="on" style="left:479.7px;width:116.4px"></i><i class="off" style="left:598.1px;width:116.4px"></i></div>
<div class="num" style="left:124.600px;top:334.8px">2</div>
<span style="position:absolute;left:149.8px;top:334.74px;font-size:16.2px;line-height:1;font-weight:700;color:#fff;white-space:nowrap;transform:scaleX(0.9738);transform-origin:left center;-webkit-text-stroke:0.35px #fff;">Custom Metric 02</span>
<svg class="help" style="position:absolute;left:695px;top:333.7px" width="18" height="18" viewBox="0 0 18 18" fill="none" stroke="#474b70" stroke-width="1.100" stroke-linecap="round"><circle cx="9" cy="9" r="7.700"/><path d="M7 7.300a2 2 0 1 1 2.900 1.800c-.6.300-.9.700-.9 1.300v.3"/><circle cx="9" cy="12.600" r=".5" fill="#474b70"/></svg>
<div class="bar" style="top:364.1px"><i class="on" style="left:124.5px;width:116.4px"></i><i class="on" style="left:242.9px;width:116.4px"></i><i class="on" style="left:361.3px;width:116.4px"></i><i class="off" style="left:479.7px;width:116.4px"></i><i class="off" style="left:598.1px;width:116.4px"></i></div>
<div class="num" style="left:124.600px;top:385px">3</div>
<span style="position:absolute;left:149.8px;top:384.94px;font-size:16.2px;line-height:1;font-weight:700;color:#fff;white-space:nowrap;transform:scaleX(0.9760);transform-origin:left center;-webkit-text-stroke:0.35px #fff;">Custom Metric 03</span>
<svg class="help" style="position:absolute;left:695px;top:383.9px" width="18" height="18" viewBox="0 0 18 18" fill="none" stroke="#474b70" stroke-width="1.100" stroke-linecap="round"><circle cx="9" cy="9" r="7.700"/><path d="M7 7.300a2 2 0 1 1 2.900 1.800c-.6.300-.9.700-.9 1.300v.3"/><circle cx="9" cy="12.600" r=".5" fill="#474b70"/></svg>
<div class="bar" style="top:414.4px"><i class="on" style="left:124.5px;width:116.4px"></i><i class="on" style="left:242.9px;width:116.4px"></i><i class="off" style="left:361.3px;width:116.4px"></i><i class="off" style="left:479.7px;width:116.4px"></i><i class="off" style="left:598.1px;width:116.4px"></i></div>
<span style="position:absolute;left:124.5px;top:472.89px;font-size:16.2px;line-height:1;font-weight:700;color:#fff;white-space:nowrap;transform:scaleX(0.9512);transform-origin:left center;-webkit-text-stroke:0.35px #fff;">Innovation x Engagement</span>
<span style="position:absolute;left:124.6px;top:499.89px;font-size:12.3px;line-height:1;font-weight:400;color:#f4f4f7;white-space:nowrap;transform:scaleX(0.9118);transform-origin:left center;">EXAMPLE OF A CHART COMPARING 3 DIFFERENT METRICS</span>
<svg id="scatter" style="position:absolute;left:124.5px;top:525px" width="590" height="283.500" viewBox="124.500 525 590 283.500" font-family="'Liberation Sans', sans-serif">
<rect x="124.500" y="525" width="590" height="283.500" rx="8" fill="#ff72d3"/>
<g fill="#1e2035" fill-opacity="0.36">
<circle cx="208.5" cy="586.3" r="6.6"/>
<circle cx="246" cy="600.5" r="8.5"/>
<circle cx="279" cy="613.3" r="8.5"/>
<circle cx="258.1" cy="633" r="6"/>
<circle cx="178.6" cy="652" r="8"/>
<circle cx="244.6" cy="660.7" r="8"/>
<circle cx="346" cy="573.4" r="8.5"/>
<circle cx="356.4" cy="595" r="8.5"/>
<circle cx="351" cy="620.6" r="8"/>
<circle cx="339.4" cy="646" r="6"/>
<circle cx="404.2" cy="577" r="8.5"/>
<circle cx="397.8" cy="591.7" r="8"/>
<circle cx="404.5" cy="617.3" r="8.5"/>
<circle cx="376.8" cy="629.5" r="8.5"/>
<circle cx="376.5" cy="634" r="7"/>
<circle cx="360.7" cy="638.5" r="8"/>
<circle cx="363" cy="640.7" r="8"/>
<circle cx="372.7" cy="648.2" r="8.5"/>
<circle cx="397.2" cy="638.5" r="8"/>
<circle cx="410.2" cy="632.2" r="9"/>
<circle cx="389.8" cy="659" r="5.2"/>
<circle cx="416" cy="657" r="7"/>
<circle cx="422.5" cy="553.3" r="7.8"/>
<circle cx="436.5" cy="590" r="7.5"/>
<circle cx="517.2" cy="556.9" r="7.5"/>
<circle cx="514.7" cy="573" r="6"/>
<circle cx="542.5" cy="562" r="7.5"/>
<circle cx="543.3" cy="569.5" r="8"/>
<circle cx="537.1" cy="581.2" r="7.5"/>
<circle cx="527.4" cy="587.5" r="8"/>
<circle cx="529" cy="596.2" r="7.2"/>
<circle cx="592" cy="553.3" r="8.5"/>
<circle cx="596.2" cy="582.7" r="9"/>
<circle cx="550.2" cy="590.5" r="8.5"/>
<circle cx="570.7" cy="587.5" r="8.5"/>
<circle cx="570" cy="594.2" r="7.5"/>
<circle cx="558" cy="601" r="7.5"/>
<circle cx="566.2" cy="605.5" r="7.5"/>
<circle cx="495" cy="593.5" r="7.8"/>
<circle cx="494.5" cy="595" r="7.5"/>
<circle cx="510.6" cy="593.8" r="7.5"/>
<circle cx="492.5" cy="605.5" r="8"/>
<circle cx="485.2" cy="610" r="9"/>
<circle cx="487.2" cy="611.5" r="8"/>
<circle cx="474.7" cy="616.5" r="8.2"/>
<circle cx="451.8" cy="616" r="8.7"/>
<circle cx="459.7" cy="622" r="8.2"/>
<circle cx="470.2" cy="631" r="9"/>
<circle cx="461.2" cy="637.3" r="8.5"/>
<circle cx="481.5" cy="633.2" r="8"/>
<circle cx="480" cy="640.7" r="7.2"/>
<circle cx="494.2" cy="634.7" r="8.2"/>
<circle cx="495.7" cy="640" r="8"/>
<circle cx="492" cy="644.5" r="6.7"/>
<circle cx="501.7" cy="644.5" r="9"/>
<circle cx="508.5" cy="639.2" r="7.5"/>
<circle cx="509.7" cy="620.8" r="8.7"/>
<circle cx="521.2" cy="627.4" r="8.5"/>
<circle cx="559" cy="625" r="8"/>
<circle cx="598.2" cy="621.4" r="8.5"/>
<circle cx="606.7" cy="619.6" r="9"/>
<circle cx="432" cy="637" r="8"/>
<circle cx="467.2" cy="648.2" r="8.2"/>
<circle cx="465.7" cy="648.7" r="6.5"/>
<circle cx="686.4" cy="590.5" r="9.3"/>
<circle cx="667" cy="611" r="6.7"/>
<circle cx="680.5" cy="628" r="8.5"/>
<circle cx="664.8" cy="658.5" r="8"/>
<circle cx="561.7" cy="653" r="8.5"/>
<circle cx="563.7" cy="665.5" r="6"/>
<circle cx="516.7" cy="659.5" r="8"/>
<circle cx="496.5" cy="660.5" r="8"/>
<circle cx="502" cy="661" r="7.5"/>
<circle cx="427.5" cy="662.5" r="9"/>
<circle cx="467.7" cy="665.7" r="6.7"/>
<circle cx="461" cy="676.5" r="8.5"/>
<circle cx="463" cy="688.8" r="6"/>
<circle cx="488.5" cy="682.8" r="8"/>
<circle cx="507" cy="674.2" r="7.5"/>
<circle cx="516" cy="675" r="7.5"/>
<circle cx="516.7" cy="689.7" r="6"/>
<circle cx="503.4" cy="695.5" r="7.5"/>
<circle cx="489.7" cy="704.2" r="9"/>
<circle cx="475.5" cy="708.5" r="7.5"/>
<circle cx="552.9" cy="693.7" r="8"/>
<circle cx="570" cy="702.9" r="9"/>
<circle cx="594.3" cy="697.2" r="7.5"/>
<circle cx="622" cy="692.7" r="6"/>
<circle cx="653.4" cy="684.7" r="6.7"/>
<circle cx="655.2" cy="692.2" r="8.5"/>
<circle cx="584.2" cy="722" r="8"/>
<circle cx="559.5" cy="726.4" r="8"/>
<circle cx="199.6" cy="692.4" r="9.3"/>
<circle cx="317.8" cy="681.3" r="6"/>
<circle cx="301.8" cy="716.5" r="6"/>
<circle cx="407.7" cy="687" r="6"/>
</g>
<path d="M153 667H686.400M419.600 553.500V780.700" stroke="#1e2035" stroke-opacity="0.62" stroke-width="1.400" fill="none"/>
<circle cx="523.200" cy="671.700" r="9.300" fill="#f7f4f8" fill-opacity="0.96"/>
<text x="419.3" y="543.1" font-size="10.3" text-anchor="middle" textLength="95.5" lengthAdjust="spacingAndGlyphs" fill="#1e2035" fill-opacity="0.94">MORE ENGAGEMENT</text>
<text x="419" y="798.2" font-size="10.3" text-anchor="middle" textLength="90.5" lengthAdjust="spacingAndGlyphs" fill="#1e2035" fill-opacity="0.94">LESS ENGAGEMENT</text>
<text x="271.8" y="600.4" font-size="11.6" text-anchor="middle" textLength="116.6" lengthAdjust="spacingAndGlyphs" fill="#1e2035" fill-opacity="0.94">GETTING ATTENTION</text>
<text x="566.7" y="600.4" font-size="11.6" text-anchor="middle" textLength="75" lengthAdjust="spacingAndGlyphs" fill="#1e2035" fill-opacity="0.94">ON THE HYPE</text>
<text x="271.7" y="742" font-size="11.6" text-anchor="middle" textLength="107" lengthAdjust="spacingAndGlyphs" fill="#1e2035" fill-opacity="0.94">TO BE DISCOVERED</text>
<text x="566.3" y="742" font-size="11.6" text-anchor="middle" textLength="92.2" lengthAdjust="spacingAndGlyphs" fill="#1e2035" fill-opacity="0.94">TO BE AWARE OF</text>
<text x="142.4" y="668" font-size="10.3" text-anchor="middle" textLength="80.5" lengthAdjust="spacingAndGlyphs" fill="#1e2035" fill-opacity="0.94" transform="rotate(-90 142.4 668)">LESS INNOVATIVE</text>
<text x="704.2" y="668" font-size="10.3" text-anchor="middle" textLength="81" lengthAdjust="spacingAndGlyphs" fill="#1e2035" fill-opacity="0.94" transform="rotate(-90 704.2 668)">VERY INNOVATIVE</text>
</svg>
<div class="badge" style="left:124.6px;top:829.4px;width:78.2px;height:16.6px"></div><span style="position:absolute;left:130.57px;top:832.55px;font-size:10.4px;line-height:1;font-weight:400;color:#1e2035;white-space:nowrap;transform:scaleX(0.9403);transform-origin:center center;">HORIZONTAL</span>
<span style="position:absolute;left:212.3px;top:829.89px;font-size:16.2px;line-height:1;font-weight:700;color:#fff;white-space:nowrap;transform:scaleX(0.9849);transform-origin:left center;-webkit-text-stroke:0.35px #fff;">Custom Metric 04</span>
<svg class="help" style="position:absolute;left:695px;top:829.2px" width="18" height="18" viewBox="0 0 18 18" fill="none" stroke="#474b70" stroke-width="1.100" stroke-linecap="round"><circle cx="9" cy="9" r="7.700"/><path d="M7 7.300a2 2 0 1 1 2.900 1.800c-.6.300-.9.700-.9 1.300v.3"/><circle cx="9" cy="12.600" r=".5" fill="#474b70"/></svg>
<div class="bar" style="top:859.7px"><i class="off" style="left:124.5px;width:590px"></i><i class="on" style="left:124.5px;width:445.5px"></i></div>
<div class="badge" style="left:124.6px;top:879.8px;width:63.1px;height:16.6px"></div><span style="position:absolute;left:130.81px;top:882.95px;font-size:10.4px;line-height:1;font-weight:400;color:#1e2035;white-space:nowrap;transform:scaleX(0.9315);transform-origin:center center;">VERTICAL</span>
<span style="position:absolute;left:196.9px;top:880.19px;font-size:16.2px;line-height:1;font-weight:700;color:#fff;white-space:nowrap;transform:scaleX(0.9849);transform-origin:left center;-webkit-text-stroke:0.35px #fff;">Custom Metric 05</span>
<svg class="help" style="position:absolute;left:695px;top:879.5px" width="18" height="18" viewBox="0 0 18 18" fill="none" stroke="#474b70" stroke-width="1.100" stroke-linecap="round"><circle cx="9" cy="9" r="7.700"/><path d="M7 7.300a2 2 0 1 1 2.900 1.800c-.6.300-.9.700-.9 1.300v.3"/><circle cx="9" cy="12.600" r=".5" fill="#474b70"/></svg>
<div class="bar" style="top:909.8px"><i class="off" style="left:124.5px;width:590px"></i><i class="on" style="left:124.5px;width:344px"></i></div>
<div class="badge" style="left:124.6px;top:930px;width:51.8px;height:16.6px"></div><span style="position:absolute;left:130.85px;top:933.15px;font-size:10.4px;line-height:1;font-weight:400;color:#1e2035;white-space:nowrap;transform:scaleX(0.9161);transform-origin:center center;">RADIUS</span>
<span style="position:absolute;left:186.1px;top:930.69px;font-size:16.2px;line-height:1;font-weight:700;color:#fff;white-space:nowrap;transform:scaleX(0.9459);transform-origin:left center;-webkit-text-stroke:0.35px #fff;">Technology Readiness Level</span>
<svg class="help" style="position:absolute;left:695px;top:929.8px" width="18" height="18" viewBox="0 0 18 18" fill="none" stroke="#474b70" stroke-width="1.100" stroke-linecap="round"><circle cx="9" cy="9" r="7.700"/><path d="M7 7.300a2 2 0 1 1 2.900 1.800c-.6.300-.9.700-.9 1.300v.3"/><circle cx="9" cy="12.600" r=".5" fill="#474b70"/></svg>
<div class="bar" style="top:960.2px"><i class="on" style="left:124.5px;width:63.78px"></i><i class="on" style="left:190.28px;width:63.78px"></i><i class="on" style="left:256.06px;width:63.78px"></i><i class="on" style="left:321.83px;width:63.78px"></i><i class="on" style="left:387.61px;width:63.78px"></i><i class="on" style="left:453.39px;width:63.78px"></i><i class="on" style="left:519.17px;width:63.78px"></i><i class="on" style="left:584.94px;width:63.78px"></i><i class="on" style="left:650.72px;width:63.78px"></i></div>
<div class="rule"></div>
<span style="position:absolute;left:124.5px;top:1018.52px;font-size:16.4px;line-height:1;font-weight:400;color:#f2f2f5;white-space:nowrap;transform:scaleX(0.9787);transform-origin:left center;">This movement aims to incorporate technology into data acquisition, taking into</span>
<span style="position:absolute;left:124.5px;top:1038.32px;font-size:16.4px;line-height:1;font-weight:400;color:#f2f2f5;white-space:nowrap;transform:scaleX(0.9791);transform-origin:left center;">account every aspect of daily life. This would range from inputs (amount of food</span>
<div class="scroll"></div>
</div>
<header id="panel-head">
<svg style="position:absolute;left:121px;top:27px" width="16" height="14" viewBox="0 0 16 14" fill="none" stroke="#f3f3f6" stroke-width="1.200" stroke-linecap="round" stroke-linejoin="round"><path d="M14.800 7H1.400M6.600 1.600 1.200 7l5.400 5.400"/></svg>
<span style="position:absolute;left:381.19px;top:21.28px;font-size:11.6px;line-height:1;font-weight:400;color:#f0f0f4;white-space:nowrap;transform:scaleX(0.8435);transform-origin:center center;">TECHNOLOGY</span>
<span style="position:absolute;left:365.45px;top:35.73px;font-size:12.6px;line-height:1;font-weight:700;color:#fff;white-space:nowrap;transform:scaleX(0.8873);transform-origin:center center;-webkit-text-stroke:0.25px #fff;">QUANTIFIED SELF</span>
<svg style="position:absolute;left:708px;top:28px" width="14" height="14" viewBox="0 0 14 14" fill="none" stroke="#f3f3f6" stroke-width="1.200" stroke-linecap="round"><path d="M1.300 1.300 12.300 12.300M12.300 1.300 1.300 12.300"/></svg>
</header>
<footer id="panel-foot">
<svg style="position:absolute;left:123px;top:1091px" width="13" height="12" viewBox="0 0 13 12" fill="none" stroke="#f3f3f6" stroke-width="1.100" stroke-linecap="round" stroke-linejoin="round"><path d="M12 6H1.400M5.600 1.600 1.200 6l4.400 4.400"/></svg>
<span style="position:absolute;left:148.2px;top:1091.72px;font-size:11.2px;line-height:1;font-weight:400;color:#f2f2f5;white-space:nowrap;transform:scaleX(0.8741);transform-origin:left center;">EMPLOYEE-FREE STORE</span>
<span style="position:absolute;left:598.32px;top:1091.72px;font-size:11.2px;line-height:1;font-weight:400;color:#f2f2f5;white-space:nowrap;transform:scaleX(0.8949);transform-origin:right center;">POCKET DRONES</span>
<svg style="position:absolute;left:708.500px;top:1091px" width="13" height="12" viewBox="0 0 13 12" fill="none" stroke="#f3f3f6" stroke-width="1.100" stroke-linecap="round" stroke-linejoin="round"><path d="M1 6h10.600M7.400 1.600 11.800 6l-4.400 4.400"/></svg>
</footer>
</section>
<nav id="sidebar">
<div class="logo"><span style="position:absolute;left:28.2px;top:24.61px;font-size:19.6px;line-height:1;font-weight:700;color:#fff;white-space:nowrap;transform:scaleX(0.9370);transform-origin:left center;-webkit-text-stroke:0.35px #fff;">EV</span><svg style="position:absolute;left:51px;top:25px" width="10" height="18" viewBox="0 0 10 18"><path d="M7.100 3.300 3.600 14.600" stroke="#d8f23a" stroke-width="2.900" stroke-linecap="round" fill="none"/></svg></div>
<div class="active-mark"></div>
<svg class="nav-ico" style="left:33.4px;top:367.8px" width="22" height="22" viewBox="0 0 24 24" fill="none" stroke="#f3f3f6" stroke-width="1.35" stroke-linecap="round" stroke-linejoin="round"><path d="M3.5 10.2 12 3.6l8.5 6.6V19a1.2 1.2 0 0 1-1.2 1.2H4.7A1.2 1.2 0 0 1 3.5 19Z"/></svg>
<svg class="nav-ico" style="left:33.4px;top:408.95px" width="22" height="22" viewBox="0 0 24 24" fill="none" stroke="#f3f3f6" stroke-width="1.35" stroke-linecap="round" stroke-linejoin="round"><path d="M11 4.6A8 8 0 1 0 19.4 13H11Z"/><path d="M14 2.6V10h7.4A7.6 7.6 0 0 0 14 2.6Z"/></svg>
<svg class="nav-ico" style="left:33.4px;top:450.1px" width="22" height="22" viewBox="0 0 24 24" fill="none" stroke="#f3f3f6" stroke-width="1.35" stroke-linecap="round" stroke-linejoin="round"><path d="M20.6 3.4c-4.6.2-8 2-10.6 5.6l-3.6.6-2 3 3.4.6 3 3 .6 3.4 3-2 .6-3.6c3.6-2.600 5.400-6 5.600-10.600Z"/><path d="M6.600 17.400 3.600 20.400M8.200 18.800l-1.200 1.200M5.200 15.800 4 17"/></svg>
<svg class="nav-ico" style="left:33.4px;top:491.25px" width="22" height="22" viewBox="0 0 24 24" fill="none" stroke="#f3f3f6" stroke-width="1.35" stroke-linecap="round" stroke-linejoin="round"><circle cx="12" cy="12" r="8.6"/><ellipse cx="12" cy="12" rx="3.8" ry="8.600"/><path d="M3.400 12h17.200M4.600 7.800h14.800M4.600 16.200h14.800"/></svg>
<svg class="nav-ico" style="left:33.4px;top:532.4px" width="22" height="22" viewBox="0 0 24 24" fill="none" stroke="#f3f3f6" stroke-width="1.35" stroke-linecap="round" stroke-linejoin="round"><path d="M13.800 3.600 20.400 10.200a1.400 1.400 0 0 1 0 2l-7.200 7.200a1.400 1.400 0 0 1-1 .4H5a1.400 1.400 0 0 1-1.400-1.400V11.600a1.400 1.400 0 0 1 .4-1L11.800 3.600a1.400 1.400 0 0 1 2 0Z" transform="rotate(0 12 12)"/><circle cx="7.600" cy="16.200" r="1.500"/></svg>
<svg class="nav-ico" style="left:33.4px;top:573.55px" width="22" height="22" viewBox="0 0 24 24" fill="none" stroke="#f3f3f6" stroke-width="1.35" stroke-linecap="round" stroke-linejoin="round"><path d="M3.200 12.400a8.800 8.800 0 0 1 17.600 0Z"/><path d="M12 3.600V2.400M12 12.400v6.400a2 2 0 0 1-4 0"/></svg>
<svg class="nav-ico" style="left:33.4px;top:614.7px" width="22" height="22" viewBox="0 0 24 24" fill="none" stroke="#f3f3f6" stroke-width="1.35" stroke-linecap="round" stroke-linejoin="round"><path d="M11 5.400l1.700 4.700 4.700 1.700-4.700 1.700L11 18.200l-1.700-4.700-4.700-1.700 4.700-1.700Z"/><path d="M5 3v3.200M3.400 4.600h3.200M18.600 16.400v3.600M16.800 18.200h3.600"/></svg>
<svg class="nav-ico" style="left:33.4px;top:655.85px" width="22" height="22" viewBox="0 0 24 24" fill="none" stroke="#f3f3f6" stroke-width="1.35" stroke-linecap="round" stroke-linejoin="round"><path d="M6.200 18.800a8.600 8.600 0 1 1 11.600 0"/><circle cx="12" cy="13.600" r="1.800"/><path d="M13.300 12.300 16 9.400"/></svg>
<svg class="nav-ico" style="left:33.4px;top:697px" width="22" height="22" viewBox="0 0 24 24" fill="none" stroke="#f3f3f6" stroke-width="1.35" stroke-linecap="round" stroke-linejoin="round"><path d="M20.400 3.600 3.600 10.600l7.200 2.600 2.600 7.200Z"/></svg>
<svg class="nav-ico" style="left:33.4px;top:738.15px" width="22" height="22" viewBox="0 0 24 24" fill="none" stroke="#f3f3f6" stroke-width="1.35" stroke-linecap="round" stroke-linejoin="round"><circle cx="12" cy="12" r="8.800"/><path d="M12 11.200v5.200"/><circle cx="12" cy="7.900" r=".55" fill="#fff"/></svg>
<span style="position:absolute;left:25.45px;top:1084.43px;font-size:10.6px;line-height:1;font-weight:400;color:#4f5580;white-space:nowrap;transform:scaleX(0.8893);transform-origin:center center;">RADAR</span>
<span style="position:absolute;left:31.62px;top:1098.43px;font-size:10.6px;line-height:1;font-weight:400;color:#4f5580;white-space:nowrap;transform:scaleX(1.0504);transform-origin:center center;">V 6.0</span>
</nav>
<div id="edge"></div>
<div id="status">Display a menu</div>
</div>
</body>
</html>
